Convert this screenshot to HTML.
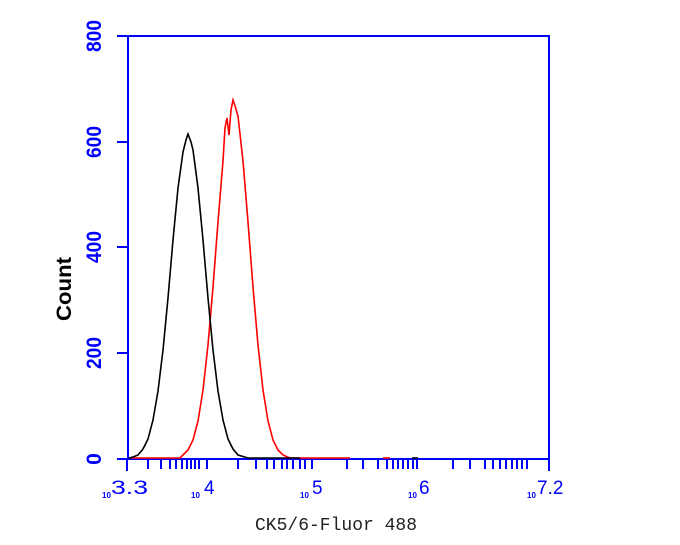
<!DOCTYPE html>
<html><head><meta charset="utf-8"><style>
html,body{margin:0;padding:0;background:#fff;width:680px;height:545px;overflow:hidden}
</style></head><body>
<svg width="680" height="545" viewBox="0 0 680 545" xmlns="http://www.w3.org/2000/svg">
<rect width="680" height="545" fill="#fff"/>
<g stroke="#0000ff" stroke-width="2" fill="none">
<rect x="128" y="36" width="421" height="423"/>
<path d="M117 36H128M117 142H128M117 247H128M117 353H128M117 459H128"/>
<path d="M127 459V471M148 459V469M161 459V469M170 459V469M176 459V469M182 459V469M187 459V469M191 459V469M195 459V469M199 459V469M207 459V469
M238 459V469M256 459V469M267 459V469M274 459V469M282 459V469M287 459V469M293 459V469M300 459V469M305 459V469M312 459V469
M347 459V469M363 459V469M378 459V469M387 459V469M393 459V469M398 459V469M403 459V469M408 459V469M413 459V469M417 459V469
M453 459V469M470 459V469M485 459V469M493 459V469M500 459V469M506 459V469M512 459V469M517 459V469M522 459V469M527 459V469M549 459V471"/>
</g>
<g font-family="Liberation Sans, sans-serif" font-weight="bold" fill="#0000ff" font-size="21">
<text transform="translate(101,36) rotate(-90)" text-anchor="middle" textLength="32" lengthAdjust="spacingAndGlyphs">800</text>
<text transform="translate(101,142) rotate(-90)" text-anchor="middle" textLength="32" lengthAdjust="spacingAndGlyphs">600</text>
<text transform="translate(101,247) rotate(-90)" text-anchor="middle" textLength="32" lengthAdjust="spacingAndGlyphs">400</text>
<text transform="translate(101,353) rotate(-90)" text-anchor="middle" textLength="32" lengthAdjust="spacingAndGlyphs">200</text>
<text transform="translate(101,459) rotate(-90)" text-anchor="middle">0</text>
</g>
<g font-family="Liberation Sans, sans-serif" fill="#0000ff">
<text x="102" y="498" font-size="8" font-weight="bold">10</text><text x="111" y="494" font-size="19" textLength="37" lengthAdjust="spacingAndGlyphs">3.3</text>
<text x="191" y="498" font-size="8" font-weight="bold">10</text><text x="204" y="494" font-size="19">4</text>
<text x="300" y="498" font-size="8" font-weight="bold">10</text><text x="312" y="494" font-size="19">5</text>
<text x="408" y="498" font-size="8" font-weight="bold">10</text><text x="419" y="494" font-size="19">6</text>
<text x="527" y="498" font-size="8" font-weight="bold">10</text><text x="537" y="494" font-size="19">7.2</text>
</g>
<text transform="translate(71,289) rotate(-90)" text-anchor="middle" font-family="Liberation Sans, sans-serif" font-weight="bold" font-size="21" fill="#000" textLength="64" lengthAdjust="spacingAndGlyphs">Count</text>
<text x="255" y="530" font-family="Liberation Mono, monospace" font-size="18" fill="#222">CK5/6-Fluor 488</text>
<polyline fill="none" stroke="#ff0000" stroke-width="1.6" points="130,458 180,458 183,455 188,450 193,440 198,421 203,390 208,345 213,287 218,222 223,161 225,128 227,118 229,135 231,110 233,100 235,106 238,116 243,161 248,222 253,287 258,345 263,390 268,421 273,440 278,450 283,455 290,458 350,458"/>
<path d="M383 458H390" stroke="#ff0000" stroke-width="1.6"/>
<polyline fill="none" stroke="#000" stroke-width="1.6" points="129,458 133,457 138,455 143,449 148,439 153,420 158,391 163,350 168,298 173,240 178,188 183,152 186,140 188,134 191,142 193,150 198,188 203,240 208,298 213,350 218,391 223,420 228,439 233,449 238,455 248,458 300,458"/>
<path d="M412 458H418" stroke="#000" stroke-width="1.6"/>
</svg>
</body></html>
